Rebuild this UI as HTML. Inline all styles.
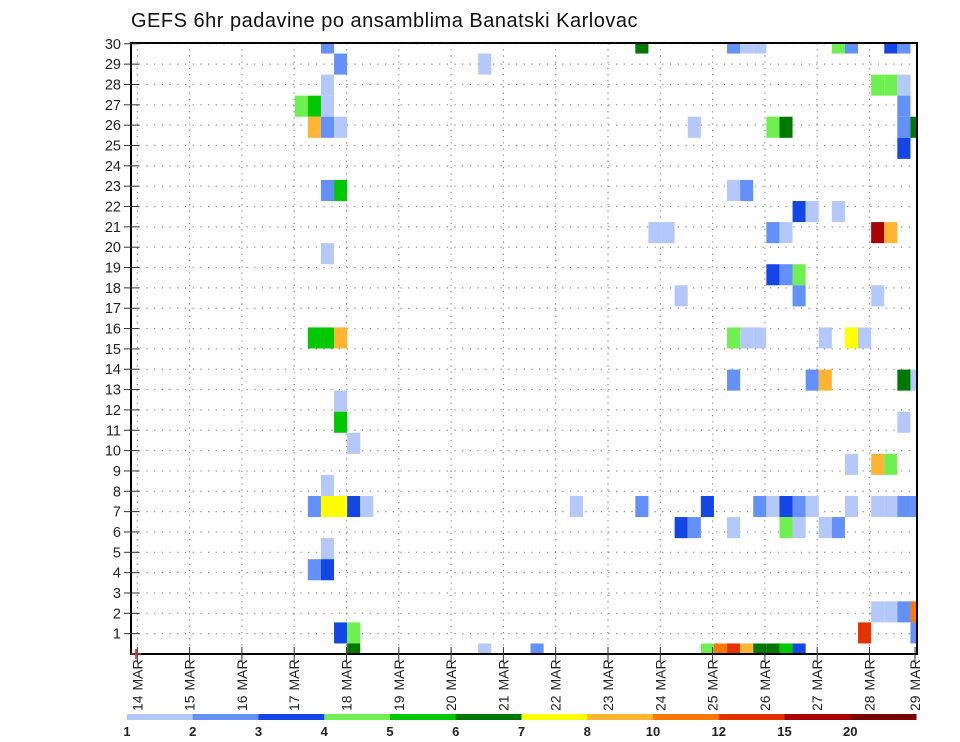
<!DOCTYPE html>
<html><head><meta charset="utf-8">
<style>
html,body{margin:0;padding:0;background:#fff;}
svg{display:block;font-family:"Liberation Sans",sans-serif;}
</style></head>
<body>
<svg id="chart" width="960" height="742" viewBox="0 0 960 742" xmlns="http://www.w3.org/2000/svg">
<defs><clipPath id="pc"><rect x="131" y="43" width="786" height="611"/></clipPath></defs>
<text x="131" y="27" font-size="20" letter-spacing="0.5" fill="#111">GEFS 6hr padavine po ansamblima Banatski Karlovac</text>
<g id="grid"></g>
<g id="cells" clip-path="url(#pc)"></g>
<rect x="131" y="43" width="786" height="611" fill="none" stroke="#000" stroke-width="2"/>
<g id="yaxis"></g>
<g id="xaxis"></g>
<g id="legend"></g>
</svg>
<script>
// ---- data ----
const yTickLabels = [1,2,3,4,5,6,7,8,9,10,11,12,13,14,15,16,17,18,19,20,21,22,23,24,25,26,27,28,29,30];
const dayLabels = ["14 MAR","15 MAR","16 MAR","17 MAR","18 MAR","19 MAR","20 MAR","21 MAR","22 MAR","23 MAR","24 MAR","25 MAR","26 MAR","27 MAR","28 MAR","29 MAR"];
const levels = [1,2,3,4,5,6,7,8,10,12,15,20];
const levelColors = ["#b4c8fa","#6490fa","#1446e6","#6ef050","#00c800","#007800","#ffff00","#ffb432","#ff7800","#e63200","#aa0000","#780000"];
const members = [
29,29,29,29,29,29,29,29,29,
28,28,
27,27,27,27,
26,26,26,26,
25,25,25,25,25,25,25,25,
24,
22,22,22,22,
21,21,21,
20,20,20,20,20,20,
19,
18,18,18,
17,17,17,
15,15,15,15,15,15,15,15,15,
13,13,13,13,13,
12,
11,11,
10,
9,9,9,
8,
7,7,7,7,7,7,7,7,7,7,7,7,7,7,7,7,7,7,
6,6,6,6,6,6,6,
5,
4,4,
2,2,2,2,
1,1,1,1,
0,0,0,0,0,0,0,0,0,0,0];
const steps = [
15,39,46,47,48,54,55,58,59,
16,27,
15,57,58,59,
13,14,15,59,
14,15,16,43,49,50,59,60,
59,
15,16,46,47,
51,52,54,
40,41,49,50,57,58,
15,
49,50,51,
42,51,57,
14,15,16,46,47,48,53,55,56,
46,52,53,59,60,
16,
16,59,
17,
55,57,58,
15,
14,15,16,17,18,34,39,44,48,49,50,51,52,55,57,58,59,60,
42,43,46,50,51,53,54,
15,
14,15,
57,58,59,60,
16,17,56,60,
17,27,31,44,45,46,47,48,49,50,51];
const precip = [
2.5,6.5,2.5,1.5,1.5,4.5,2.5,3.5,2.5,
2.5,1.5,
1.5,4.5,4.5,1.5,
4.5,5.5,1.5,2.5,
9,2.5,1.5,1.5,4.5,6.5,2.5,6.5,
3.5,
2.5,5.5,1.5,2.5,
3.5,1.5,1.5,
1.5,1.5,2.5,1.5,17,9,
1.5,
3.5,2.5,4.5,
1.5,2.5,1.5,
5.5,5.5,9,4.5,1.5,1.5,1.5,7.5,1.5,
2.5,2.5,9,6.5,1.5,
1.5,
5.5,1.5,
1.5,
1.5,9,4.5,
1.5,
2.5,7.5,7.5,3.5,1.5,1.5,2.5,3.5,2.5,1.5,3.5,2.5,1.5,1.5,1.5,1.5,2.5,2.5,
3.5,2.5,1.5,4.5,1.5,1.5,2.5,
1.5,
2.5,3.5,
1.5,1.5,2.5,11,
3.5,4.5,13,2.5,
6.5,1.5,2.5,4.5,11,13,9,6.5,6.5,5.5,3.5];

// ---- scales ----
const NS="http://www.w3.org/2000/svg";
const PL=131, PR=917, PT=43, PB=654;
const stepW=(PR-PL)/60;
const cellH=(PB-PT)/29;
function xStep(j){return PL+j*stepW;}
function yMember(m){return PB-m*cellH;}
function yTick(v){return PB-v*20.34;}
function xDay(d){return 137.3+d*52.3;}
function colorFor(v){let c=null;for(let i=0;i<levels.length;i++){if(v>=levels[i])c=levelColors[i];}return c;}
function mk(tag,attrs,parent){const e=document.createElementNS(NS,tag);for(const k in attrs)e.setAttribute(k,attrs[k]);parent.appendChild(e);return e;}

const grid=document.getElementById('grid');
yTickLabels.forEach(v=>{
  const l=mk('line',{x1:PL,x2:PR,y1:yTick(v),y2:yTick(v),stroke:'#888','stroke-width':1.2,'stroke-dasharray':'1.2 6.5'},grid);
  
  
});
dayLabels.forEach((d,i)=>{
  const x=xDay(i); if(x>PR) return;
  const l=mk('line',{x1:x,x2:x,y1:PT,y2:PB,stroke:'#888','stroke-width':1.2,'stroke-dasharray':'1.2 5'},grid);
  
  
});

const cells=document.getElementById('cells');
for(let i=0;i<precip.length;i++){
  const c=colorFor(precip[i]); if(!c) continue;
  const r=mk('rect',{x:xStep(steps[i])-stepW/2,y:yMember(members[i])-cellH/2,width:stepW,height:cellH,fill:c},cells);
  
  
}

const ya=document.getElementById('yaxis');
yTickLabels.forEach(v=>{
  const y=yTick(v);
  const t=mk('line',{x1:124,x2:139,y1:y,y2:y,stroke:'#333','stroke-width':1},ya);
  
  
  const tx=mk('text',{x:121,y:y+5,'font-size':14.5,'text-anchor':'end',fill:'#222'},ya);
  tx.textContent=v;
  
  
});

const xa=document.getElementById('xaxis');
dayLabels.forEach((d,i)=>{
  const x=Math.min(xDay(i),915);
  const t=mk('line',{x1:x,x2:x,y1:647,y2:662,stroke:'#333','stroke-width':1},xa);
  
  
  const parts=d.split(' ');
  const tx=mk('text',{x:0,y:0,'font-size':14,'text-anchor':'start',fill:'#222',transform:`translate(${x+5},711) rotate(-90)`},xa);
  
  
  tx.appendChild(document.createTextNode(parts[0]));
  const ts=mk('tspan',{dx:1},tx);
  ts.textContent=' '+parts[1];
});
const rc=mk('path',{d:'M131 654 h10 M136 649 v10',stroke:'#c03030','stroke-width':1.5},xa);



const lg=document.getElementById('legend');
const LX=127, LW=(916-127)/levels.length;
levelColors.forEach((c,i)=>{
  const r=mk('rect',{x:LX+i*LW,y:714,width:LW+0.5,height:6,fill:c},lg);
  
  
});
levels.forEach((v,i)=>{
  const t=mk('text',{x:LX+i*LW,y:736,'font-size':13,'font-weight':'bold','text-anchor':'middle',fill:'#222'},lg);
  t.textContent=v;
  
  
});
</script>
</body></html>
